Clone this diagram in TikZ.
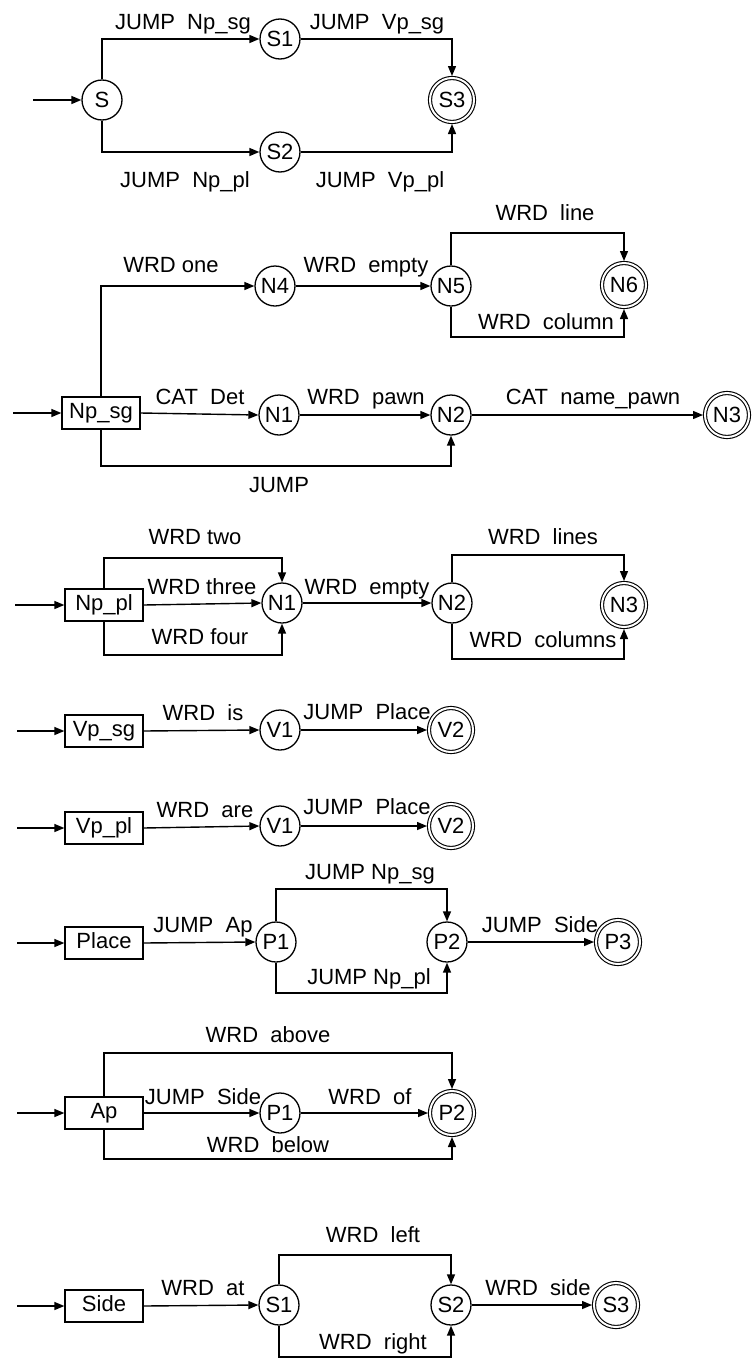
\documentclass[tikz,border=0pt]{standalone}
\usepackage{fontspec}
\setmainfont{Liberation Sans}
\usetikzlibrary{arrows.meta}
\tikzset{
  txt/.style={font=\fontsize{22pt}{26pt}\selectfont},
  lbl/.style={txt, inner sep=0pt, text height=15.8pt, text depth=0pt},
  st/.style={txt, circle, draw, line width=1.3pt, minimum size=40pt, inner sep=0pt, text height=15.8pt, text depth=0pt},
  fin/.style={txt, circle, draw, double, double distance=2pt, line width=1.1pt, minimum size=44pt, inner sep=0pt, outer sep=2pt, text height=15.8pt, text depth=0pt},
  box/.style={txt, rectangle, draw, line width=1.3pt, minimum width=78pt, minimum height=32pt, inner sep=0pt, text height=15.8pt, text depth=5pt},
  arr/.style={-{Triangle[length=10pt,width=8pt]}, line width=1.4pt}
}
\begin{document}
\begin{tikzpicture}[x=1pt,y=-1pt]
\useasboundingbox (0,0) rectangle (754,1360);

% ---------- Section 1 ----------
\node[st] (S) at (102,100) {S};
\node[st] (S1) at (280,39) {S1};
\node[st] (S2) at (280,152) {S2};
\node[fin] (S3) at (452,100) {S3};
\coordinate (e1) at (33,100);
\draw[arr] (e1) -- (S);
\draw[arr] (S.north) |- (S1.west);
\draw[arr] (S1.east) -| (S3.north);
\draw[arr] (S.south) |- (S2.west);
\draw[arr] (S2.east) -| (S3.south);
\node[lbl] (a1) at (183,22) {JUMP~~Np\_sg};
\node[lbl] (a2) at (377,22) {JUMP~~Vp\_sg};
\node[lbl] (a3) at (185,180) {JUMP~~Np\_pl};
\node[lbl] (a4) at (380,180) {JUMP~~Vp\_pl};

% ---------- Section 2 ----------
\node[box] (npsg) at (101,413) {Np\_sg};
\node[st] (N4) at (275,286) {N4};
\node[st] (N5) at (451,286) {N5};
\node[fin] (N6) at (624,285) {N6};
\node[st] (N1) at (279,415) {N1};
\node[st] (N2) at (451,415) {N2};
\node[fin] (N3) at (727,415) {N3};
\coordinate (e2) at (13,413);
\draw[arr] (e2) -- (npsg);
\draw[arr] (npsg.north) |- (N4.west);
\draw[arr] (N4) -- (N5);
\draw[arr] (N5.north) -- (N5.north |- 0,233) -| (N6.north);
\draw[arr] (N5.south) -- (N5.south |- 0,337) -| (N6.south);
\draw[arr] (npsg.east) -- (N1.west);
\draw[arr] (N1) -- (N2);
\draw[arr] (N2) -- (N3);
\draw[arr] (npsg.south) -- (npsg.south |- 0,466) -| (N2.south);
\node[lbl] (b1) at (171,265) {WRD one};
\node[lbl] (b2) at (366,265) {WRD~~empty};
\node[lbl] (b3) at (545,213) {WRD~~line};
\node[lbl] (b4) at (546,322) {WRD~~column};
\node[lbl] (b5) at (200,397) {CAT~~Det};
\node[lbl] (b6) at (366,397) {WRD~~pawn};
\node[lbl] (b7) at (593,397) {CAT~~name\_pawn};
\node[lbl] (b8) at (279,485) {JUMP};

% ---------- Section 3 ----------
\node[box] (nppl) at (104,605) {Np\_pl};
\node[st] (M1) at (282,603) {N1};
\node[st] (M2) at (452,603) {N2};
\node[fin] (M3) at (624,605) {N3};
\coordinate (e3) at (15,605);
\draw[arr] (e3) -- (nppl);
\draw[arr] (nppl.north) -- (nppl.north |- 0,558) -| (M1.north);
\draw[arr] (nppl.east) -- (M1.west);
\draw[arr] (nppl.south) -- (nppl.south |- 0,655) -| (M1.south);
\draw[arr] (M1) -- (M2);
\draw[arr] (M2.north) -- (M2.north |- 0,555) -| (M3.north);
\draw[arr] (M2.south) -- (M2.south |- 0,659) -| (M3.south);
\node[lbl] (c1) at (195,537) {WRD two};
\node[lbl] (c2) at (202,587) {WRD three};
\node[lbl] (c3) at (200,637) {WRD four};
\node[lbl] (c4) at (367,587) {WRD~~empty};
\node[lbl] (c5) at (543,537) {WRD~~lines};
\node[lbl] (c6) at (543,640) {WRD~~columns};

% ---------- Vp_sg ----------
\node[box] (vpsg) at (104,731) {Vp\_sg};
\node[st] (V1) at (280,730) {V1};
\node[fin] (V2) at (451,730) {V2};
\coordinate (e4) at (17,731);
\draw[arr] (e4) -- (vpsg);
\draw[arr] (vpsg.east) -- (V1.west);
\draw[arr] (V1) -- (V2);
\node[lbl] (d1) at (203,713) {WRD~~is};
\node[lbl] (d2) at (367,712) {JUMP~~Place};

% ---------- Vp_pl ----------
\node[box] (vppl) at (104,828) {Vp\_pl};
\node[st] (W1) at (280,826) {V1};
\node[fin] (W2) at (451,826) {V2};
\coordinate (e5) at (17,828);
\draw[arr] (e5) -- (vppl);
\draw[arr] (vppl.east) -- (W1.west);
\draw[arr] (W1) -- (W2);
\node[lbl] (f1) at (205,810) {WRD~~are};
\node[lbl] (f2) at (367,807) {JUMP~~Place};

% ---------- Place ----------
\node[box] (place) at (104,943) {Place};
\node[st] (P1) at (276,942) {P1};
\node[st] (P2) at (447,942) {P2};
\node[fin] (P3) at (618,942) {P3};
\coordinate (e6) at (17,943);
\draw[arr] (e6) -- (place);
\draw[arr] (place.east) -- (P1.west);
\draw[arr] (P1.north) -- (P1.north |- 0,889) -| (P2.north);
\draw[arr] (P1.south) -- (P1.south |- 0,993) -| (P2.south);
\draw[arr] (P2) -- (P3);
\node[lbl] (g1) at (203,925) {JUMP~~Ap};
\node[lbl] (g2) at (370,872) {JUMP Np\_sg};
\node[lbl] (g3) at (369,977) {JUMP Np\_pl};
\node[lbl] (g4) at (540,925) {JUMP~~Side};

% ---------- Ap ----------
\node[box] (ap) at (104,1113) {Ap};
\node[st] (Q1) at (280,1113) {P1};
\node[fin] (Q2) at (452,1113) {P2};
\coordinate (e7) at (17,1113);
\draw[arr] (e7) -- (ap);
\draw[arr] (ap.north) -- (ap.north |- 0,1053) -| (Q2.north);
\draw[arr] (ap.east) -- (Q1.west);
\draw[arr] (Q1) -- (Q2);
\draw[arr] (ap.south) -- (ap.south |- 0,1159) -| (Q2.south);
\node[lbl] (h1) at (268,1035) {WRD~~above};
\node[lbl] (h2) at (203,1097) {JUMP~~Side};
\node[lbl] (h3) at (370,1097) {WRD~~of};
\node[lbl] (h4) at (268,1145) {WRD~~below};

% ---------- Side ----------
\node[box] (side) at (104,1306) {Side};
\node[st] (T1) at (279,1305) {S1};
\node[st] (T2) at (451,1305) {S2};
\node[fin] (T3) at (616,1305) {S3};
\coordinate (e8) at (17,1306);
\draw[arr] (e8) -- (side);
\draw[arr] (side.east) -- (T1.west);
\draw[arr] (T1.north) -- (T1.north |- 0,1255) -| (T2.north);
\draw[arr] (T1.south) -- (T1.south |- 0,1357) -| (T2.south);
\draw[arr] (T2) -- (T3);
\node[lbl] (k1) at (203,1288) {WRD~~at};
\node[lbl] (k2) at (373,1235) {WRD~~left};
\node[lbl] (k3) at (373,1342) {WRD~~right};
\node[lbl] (k4) at (538,1288) {WRD~~side};
\end{tikzpicture}
\end{document}
